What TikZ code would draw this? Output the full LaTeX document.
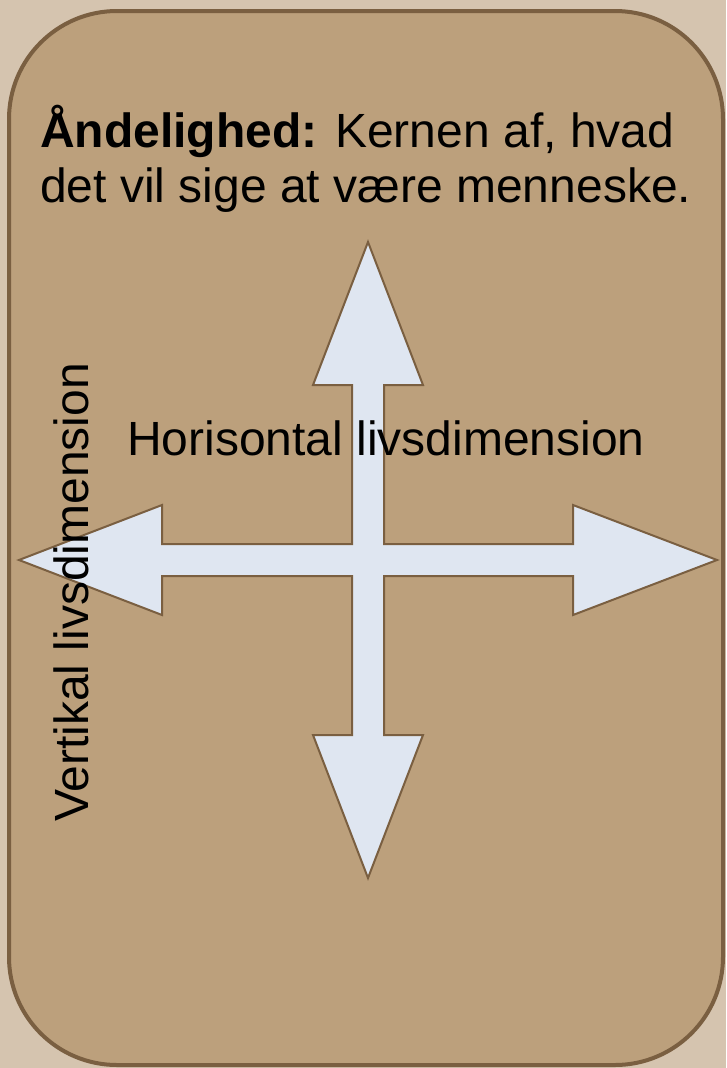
\documentclass[tikz,border=0pt]{standalone}
\usepackage{fontspec}
\setmainfont{Liberation Sans}
\definecolor{pagetan}{HTML}{D5C4AF}
\definecolor{cardtan}{HTML}{BCA07C}
\definecolor{cardedge}{HTML}{7A5F41}
\definecolor{arrowfill}{HTML}{DFE6F1}
\tikzset{
    card/.style={fill=cardtan,draw=cardedge,line width=4pt,rounded corners=108pt},
    crossarrow/.style={fill=arrowfill,draw=cardedge,line width=2pt,line join=miter},
    bigtext/.style={font=\fontsize{48}{55}\selectfont,inner sep=0pt,anchor=base west},
}
\newcommand\CrossArrow[1]{%
    \draw[crossarrow] (#1) ++(0,-318)
        -- ++(55,143) -- ++(-39,0) -- ++(0,159) -- ++(189,0)   % up
        -- ++(0,-39) -- ++(144,55) -- ++(-144,55) -- ++(0,-39) % right
        -- ++(-189,0) -- ++(0,159) -- ++(39,0) -- ++(-55,143)  % down
        -- ++(-55,-143) -- ++(39,0) -- ++(0,-159) -- ++(-190,0)
        -- ++(0,39) -- ++(-143,-55) -- ++(143,-55) -- ++(0,39) % left
        -- ++(190,0) -- ++(0,-159) -- ++(-39,0) -- cycle;
}

\begin{document}
\begin{tikzpicture}[x=1pt,y=-1pt]
    \fill[pagetan] (0,0) rectangle (726,1068);
    \useasboundingbox (0,0) rectangle (726,1068);
    \draw[card] (9,11) rectangle (723,1065);
    \coordinate (Center) at (368,560);
    \CrossArrow{Center}
    % texts
    \node[bigtext] (title) at (40,147) {\textbf{Åndelighed:} Kernen af, hvad};
    \node[bigtext] (titlecont) at (40,202) {det vil sige at være menneske.};
    \node[bigtext] (horiz) at (127,455) {Horisontal livsdimension};
    \node[bigtext,rotate=90] (vert) at (88,822) {Vertikal livsdimension};
\end{tikzpicture}
\end{document}
